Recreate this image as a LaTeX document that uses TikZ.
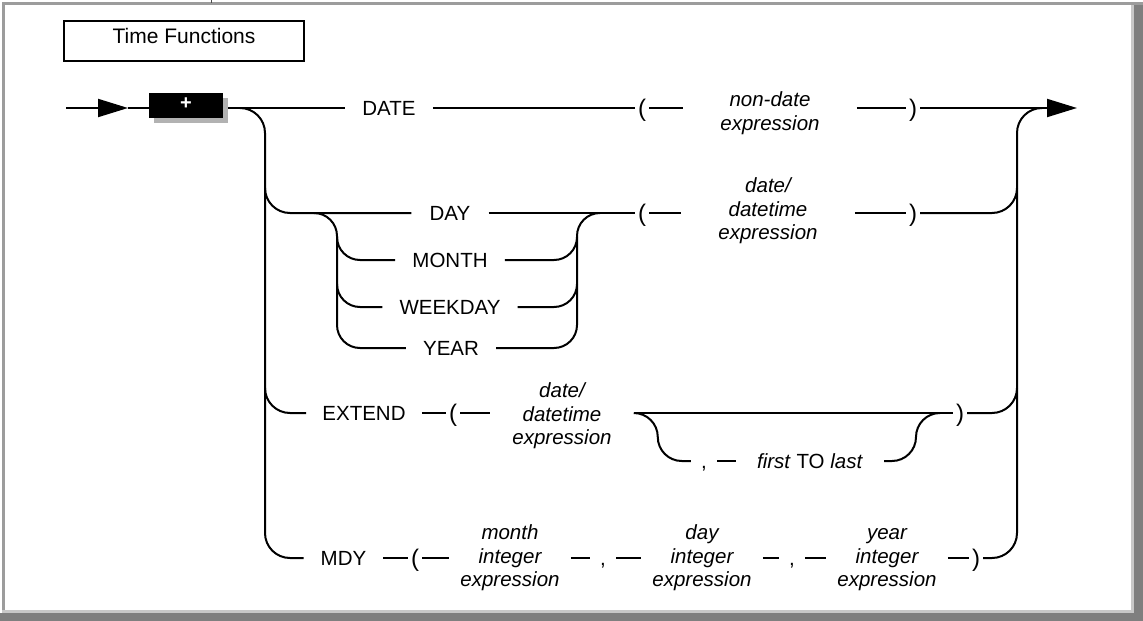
\documentclass[tikz,border=0pt]{standalone}
\usepackage{fontspec}
\setmainfont{Liberation Sans}
\usetikzlibrary{arrows.meta,shadows}
\newcommand\dfont{\fontsize{20.5}{23.5}\selectfont}
\newcommand\pfont{\fontsize{24}{24}\selectfont}
\definecolor{frameline}{HTML}{9C9C9C}
\definecolor{frameband}{HTML}{7F7F7F}
\definecolor{frameedge}{HTML}{C8C8C8}
\begin{document}
\begin{tikzpicture}[x=1pt,y=-1pt,
  rail/.style={line width=2pt},
  kw/.style={font=\dfont, text height=14.7pt, text depth=0pt, inner ysep=0pt, inner xsep=17pt},
  paren/.style={font=\pfont, text height=17pt, text depth=0pt, inner ysep=0pt, inner xsep=3pt},
  comma/.style={kw, inner xsep=10pt},
  arg/.style={font=\dfont\itshape, align=center, inner ysep=0pt, inner xsep=#1},
  arg/.default=11pt,
  rtip/.style={-{Triangle[length=30pt,width=18pt]}}
]
\useasboundingbox (0,0) rectangle (1143,621);
\fill[white] (0,0) rectangle (1143,621);
% frame
\fill[frameline] (2,2) rectangle (1143,5);
\fill[frameline] (2,2) rectangle (5,613);
\fill[frameedge] (1131,5) rectangle (1134,613);
\fill[frameband] (1134,5) rectangle (1143,621);
\fill[frameedge] (2,610) rectangle (1134,613);
\fill[frameband] (0,613) rectangle (1143,621);
\draw[line width=1pt, black!70] (211,0) -- (211,3);

% title
\node[draw, line width=2.8pt, minimum width=240pt, minimum height=40pt,
  font=\fontsize{21}{24}\selectfont, text height=14.7pt, text depth=10.6pt, inner sep=0pt]
  (title) at (184,41) {Time Functions};

% entry
\coordinate (start) at (66,108);
\coordinate (atip) at (128,108);
\coordinate (exit) at (1077,108);
\coordinate (L0) at (240,108);
\node[fill=black, minimum width=74pt, minimum height=25pt, inner sep=0pt,
  drop shadow={shadow xshift=5pt, shadow yshift=-5pt, fill=black!30, opacity=1},
  text=white, font=\fontsize{20}{20}\selectfont\bfseries] (plus) at (186,105.5) {\raisebox{3pt}{+}};

% DATE row
\node[kw] (DATE) at (389,108) {DATE};
\node[paren] (lpA) at (642,108) {(};
\node[arg=37pt] (argA) at (770,113) {non-date\\expression};
\node[paren] (rpA) at (913,108) {)};

% DAY row
\node[kw, inner xsep=18pt] (DAY) at (450,213) {DAY};
\node[kw] (MONTH) at (450,260) {MONTH};
\node[kw] (WEEK) at (450,307) {WEEKDAY};
\node[kw] (YEAR) at (451,348) {YEAR};
\node[paren] (lpD) at (642,213) {(};
\node[arg=37pt] (argD) at (768,211) {date/\\datetime\\expression};
\node[paren] (rpD) at (913,213) {)};

% EXTEND row
\node[kw, inner xsep=16pt] (EXT) at (364,413) {EXTEND};
\node[paren] (lpE) at (453,413) {(};
\node[arg=22pt] (argE) at (562,416) {date/\\datetime\\expression};
\node[paren] (rpE) at (960,413) {)};
\node[comma] (cmE) at (704,461) {,};
\node[kw, inner xsep=21pt] (ftl) at (810,461) {\textit{first} TO \textit{last}};

% MDY row
\node[kw] (MDY) at (343.5,558) {MDY};
\node[paren] (lpM) at (415,558) {(};
\node[arg] (argM) at (510,558) {month\\integer\\expression};
\node[comma] (cmM1) at (603,558) {,};
\node[arg] (argMd) at (702,558) {day\\integer\\expression};
\node[comma] (cmM2) at (792,558) {,};
\node[arg] (argMy) at (887,558) {\vphantom{d}year\\integer\\expression};
\node[paren] (rpM) at (976,558) {)};

% connectors: entry
\draw[rail,rtip] (start) -- (atip);
\draw[rail] (atip) -- (atip -| plus.west);
\draw[rail] ([xshift=5pt]plus.east |- L0) -- (DATE.west);

% left rail
\draw[rail] (L0) arc[start angle=90,end angle=0,radius=25pt] -- (265,533)
  arc[start angle=180,end angle=270,radius=25pt] -- (MDY.west);
\draw[rail] (265,188) arc[start angle=180,end angle=270,radius=25pt] -- (DAY.west);
\draw[rail] (265,388) arc[start angle=180,end angle=270,radius=25pt] -- (EXT.west);

% DATE row
\draw[rail] (DATE.east) -- (lpA.west);
\draw[rail] (lpA.east) -- (lpA.east -| argA.west);
\draw[rail] (rpA.west -| argA.east) -- (rpA.west);
\draw[rail,rtip] (rpA.east) -- (exit);

% DAY group
\draw[rail] (314,213) arc[start angle=90,end angle=0,radius=23pt] -- (337,325)
  arc[start angle=180,end angle=270,radius=23pt] -- (YEAR.west);
\draw[rail] (337,237) arc[start angle=180,end angle=270,radius=23pt] -- (MONTH.west);
\draw[rail] (337,284) arc[start angle=180,end angle=270,radius=23pt] -- (WEEK.west);
\draw[rail] (MONTH.east) -- (554,260) arc[start angle=270,end angle=360,radius=23pt];
\draw[rail] (WEEK.east) -- (554,307) arc[start angle=270,end angle=360,radius=23pt];
\draw[rail] (YEAR.east) -- (554,348) arc[start angle=270,end angle=360,radius=23pt]
  -- (577,236) arc[start angle=180,end angle=90,radius=23pt];
\draw[rail] (DAY.east) -- (lpD.west);
\draw[rail] (lpD.east) -- (lpD.east -| argD.west);
\draw[rail] (rpD.west -| argD.east) -- (rpD.west);
\draw[rail] (rpD.east) -- (992,213) arc[start angle=270,end angle=360,radius=25pt];

% EXTEND row
\draw[rail] (EXT.east) -- (lpE.west);
\draw[rail] (lpE.east) -- (lpE.east -| argE.west);
\draw[rail] (rpE.west -| argE.east) -- (rpE.west);
\draw[rail] (rpE.west -| argE.east) arc[start angle=90,end angle=0,radius=24pt]
  arc[start angle=180,end angle=270,radius=24pt] -- (cmE.west);
\draw[rail] (cmE.east) -- (ftl.west);
\draw[rail] (ftl.east) -- (892,461) arc[start angle=270,end angle=360,radius=24pt]
  arc[start angle=180,end angle=90,radius=24pt];
\draw[rail] (rpE.east) -- (992,413) arc[start angle=270,end angle=360,radius=25pt];

% MDY row
\draw[rail] (MDY.east) -- (lpM.west);
\draw[rail] (lpM.east) -- (argM.west);
\draw[rail] (argM.east) -- (cmM1.west);
\draw[rail] (cmM1.east) -- (argMd.west);
\draw[rail] (argMd.east) -- (cmM2.west);
\draw[rail] (cmM2.east) -- (argMy.west);
\draw[rail] (argMy.east) -- (rpM.west);
\draw[rail] (rpM.east) -- (992,558) arc[start angle=270,end angle=360,radius=25pt]
  -- (1017,133) arc[start angle=180,end angle=90,radius=25pt];
\end{tikzpicture}
\end{document}
